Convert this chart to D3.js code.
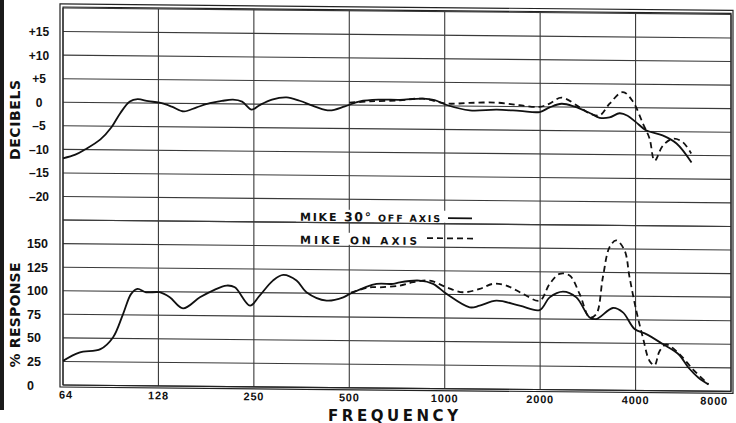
<!DOCTYPE html>
<html><head><meta charset="utf-8">
<script src="https://cdn.jsdelivr.net/npm/d3@7"></script>
<style>
html,body{margin:0;padding:0;background:#fff;}
svg{display:block;}
text{font-family:"Liberation Sans",Arial,sans-serif;font-weight:bold;fill:#111;}
.dj{font-family:"DejaVu Sans",sans-serif;}
</style></head>
<body>
<svg id="c" width="736" height="423"></svg>
<script>
// ---- tick data ----
const freqTicks = [64,128,256,512,1024,2048,4096,8192];
const freqLabels = ["64","128","250","500","1000","2000","4000","8000"];
const dbTicks = [15,10,5,0,-5,-10,-15,-20];
const dbLabels = ["+15","+10","+5","0","–5","–10","–15","–20"];
const dbGrid = [20,15,10,5,0,-5,-10,-15,-20,-25];
const pctTicks = [150,125,100,75,50,25,0];
const pctLabels = ["150","125","100","75","50","25","0"];
const pctGrid = [175,150,125,100,75,50,25,0];

// ---- series: decibels, mike 30° off axis (solid) ----
const offDbFreq = [64,70,75,84,91,97,104,110,119,129,141,154,169,186,203,220,235,252,267,292,325,357,399,444,496,553,639,739,873,952,1039,1228,1494,1765,2041,2194,2394,2631,2934,3154,3391,3647,3865,4096,4436,4983,5516,6150];
const offDb     = [-11.9,-11.1,-10.0,-7.8,-5.2,-2.2,0.3,0.8,0.4,0.1,-0.7,-1.7,-0.8,0.1,0.6,0.9,0.5,-1.2,-0.2,1.0,1.5,0.8,-0.4,-1.2,-0.3,0.8,1.2,1.2,1.5,1.2,0.2,-0.9,-0.7,-0.9,-1.1,-0.1,0.7,0.1,-1.2,-2.2,-2.1,-1.2,-1.7,-3.0,-4.8,-5.8,-7.5,-11.5];

// ---- series: decibels, mike on axis (dashed) ----
const onDbFreq = [512,594,739,873,1039,1228,1494,1765,2041,2194,2389,2728,2934,3154,3391,3736,4017,4319,4534,4702,4994,5370,5773,6136];
const onDb     = [0.5,0.8,1.1,1.5,0.5,0.7,0.8,0.3,0.0,0.7,2.0,0.0,-1.3,-1.7,0.8,3.3,1.3,-3.3,-6.5,-11.2,-8.0,-6.5,-7.2,-9.6];

// ---- series: % response, mike 30° off axis (solid) ----
const offPctFreq = [64,72,84,92,99,105,110,117,129,139,153,173,190,210,223,249,267,294,317,349,375,434,490,514,624,704,739,854,941,1037,1228,1320,1490,1765,2041,2194,2417,2664,2934,3080,3474,3736,4066,4427,4994,5597,6018,6470,6957];
const offPct     = [25.6,34.6,38.4,50.9,75.9,97.4,102.8,99.2,99.4,94.1,82.5,94.4,101.7,107.2,105.4,86.1,96.8,112.9,119.1,113.2,100.9,92.2,95.8,99.6,110.5,110.6,112.4,114.4,111.1,100.6,86.5,88.4,93.9,88.8,84.4,97.9,104.2,98.2,77.0,75.4,87.3,82.7,65.2,59.9,49.5,38.9,24.7,14.2,7.2];

// ---- series: % response, mike on axis (dashed) ----
const onPctFreq = [518,594,639,739,814,918,1037,1169,1320,1454,1602,1808,2041,2194,2359,2537,2728,2934,3080,3230,3391,3560,3781,3921,4117,4319,4534,4702,4876,5119,5597,6208,6957];
const onPct     = [100.9,106.8,106.9,108.9,112.6,114.5,107.6,102.5,106.2,111.7,110.0,101.4,94.3,112.2,123.0,121.3,101.9,77.0,80.7,119.8,151.8,159.1,148.5,120.0,84.7,56.3,31.5,27.0,42.0,49.0,40.0,23.1,7.2];

const svg = d3.select("#c");
const L = 63, R = 731, T = 8, B = 385;
const unit = (B - T) / 16;

const x = d3.scaleLog().base(2).domain([64, 8192]).range([L, R]);
const yDb = d3.scaleLinear().domain([-25, 20]).range([T + 9 * unit, T]);
const yPct = d3.scaleLinear().domain([0, 175]).range([B, B - 7 * unit]);

// scan edge strip
svg.append("rect").attr("x",0).attr("y",0).attr("width",4).attr("height",410).attr("fill","#1a1a1a");

// the scanned sheet is slightly skewed: lines drop towards the right
const P = svg.append("g").attr("transform", `translate(${L},0) skewY(0.55) translate(${-L},0)`);

// grid
const g = P.append("g").attr("stroke","#3a3a3a").attr("stroke-width",1.1);
g.selectAll("line.v").data(freqTicks).join("line")
  .attr("x1", d => x(d)).attr("x2", d => x(d)).attr("y1", T).attr("y2", B);
g.selectAll("line.hd").data(dbGrid).join("line")
  .attr("x1", L).attr("x2", R).attr("y1", d => yDb(d)).attr("y2", d => yDb(d));
g.selectAll("line.hp").data(pctGrid).join("line")
  .attr("x1", L).attr("x2", R).attr("y1", d => yPct(d)).attr("y2", d => yPct(d));

// frame (double border)
P.append("rect").attr("x",L-3).attr("y",T-4).attr("width",R-L+5).attr("height",B-T+6)
  .attr("fill","none").attr("stroke","#222").attr("stroke-width",1.2);
P.append("rect").attr("x",L).attr("y",T-1).attr("width",R-L).attr("height",B-T+1)
  .attr("fill","none").attr("stroke","#222").attr("stroke-width",1.2);

// y tick labels
svg.selectAll("text.db").data(dbTicks).join("text")
  .attr("x", 39).attr("y", d => yDb(d) + 4.5).attr("text-anchor","middle")
  .attr("font-size", 12).text((d,i) => dbLabels[i]);
svg.selectAll("text.pct").data(pctTicks).join("text")
  .attr("x", 27).attr("y", d => yPct(d) + 4.5).attr("text-anchor","start")
  .attr("font-size", 12.5).text((d,i) => pctLabels[i]);

// x tick labels
P.selectAll("text.fx").data(freqTicks).join("text")
  .attr("x", (d,i) => i === freqTicks.length - 1 ? 728 : x(d) + (i === 0 ? 3 : 0))
  .attr("y", 398.5)
  .attr("text-anchor", (d,i) => i === freqTicks.length - 1 ? "end" : "middle")
  .attr("font-size", 11).attr("letter-spacing", 0.8)
  .text((d,i) => freqLabels[i]);

// axis titles
svg.append("text").attr("class","dj").attr("x", 393).attr("y", 420.5).attr("text-anchor","middle")
  .attr("font-size", 15).attr("textLength", 130).attr("lengthAdjust","spacing").text("FREQUENCY");
svg.append("text").attr("class","dj").attr("transform","translate(20,120) rotate(-90)").attr("text-anchor","middle")
  .attr("font-size", 14).attr("textLength", 80).attr("lengthAdjust","spacing").text("DECIBELS");
svg.append("text").attr("class","dj").attr("transform","translate(20,315) rotate(-90)").attr("text-anchor","middle")
  .attr("font-size", 14).attr("textLength", 105).attr("lengthAdjust","spacing").text("% RESPONSE");

// curves
const curveOf = (ys) => d3.line().x(d => x(d[0])).y(d => ys(d[1])).curve(d3.curveCatmullRom.alpha(0.5));
function draw(freqs, vals, ys, dashed) {
  P.append("path").datum(freqs.map((f,i) => [f, vals[i]]))
    .attr("d", curveOf(ys)).attr("fill","none").attr("stroke","#111")
    .attr("stroke-width", 1.8).attr("stroke-linejoin","round")
    .attr("stroke-dasharray", dashed ? "6,4" : null);
}
draw(offDbFreq, offDb, yDb, false);
draw(onDbFreq, onDb, yDb, true);
draw(offPctFreq, offPct, yPct, false);
draw(onPctFreq, onPct, yPct, true);

// legend
const leg = P.append("g");
leg.append("rect").attr("x",296).attr("y",207).attr("width",150).attr("height",12).attr("fill","#fff");
leg.append("rect").attr("x",296).attr("y",230).attr("width",124).attr("height",12).attr("fill","#fff");
const t1 = leg.append("text").attr("class","dj").attr("x",300).attr("y",218.5).attr("font-size",11)
  .attr("textLength",140).attr("lengthAdjust","spacing");
t1.append("tspan").text("MIKE ");
t1.append("tspan").attr("font-size",12.5).text("30°");
t1.append("tspan").attr("font-size",9.5).text(" OFF AXIS");
leg.append("line").attr("x1",448).attr("x2",472).attr("y1",214.5).attr("y2",214.5)
  .attr("stroke","#111").attr("stroke-width",1.7);
const t2 = leg.append("text").attr("class","dj").attr("x",300).attr("y",241.5).attr("font-size",11)
  .attr("textLength",117).attr("lengthAdjust","spacing");
t2.append("tspan").text("MIKE ");
t2.append("tspan").attr("font-size",10.5).text("ON AXIS");
leg.append("line").attr("x1",427).attr("x2",474).attr("y1",234.6).attr("y2",234.6)
  .attr("stroke","#111").attr("stroke-width",1.7).attr("stroke-dasharray","6,4");
</script>
</body></html>
